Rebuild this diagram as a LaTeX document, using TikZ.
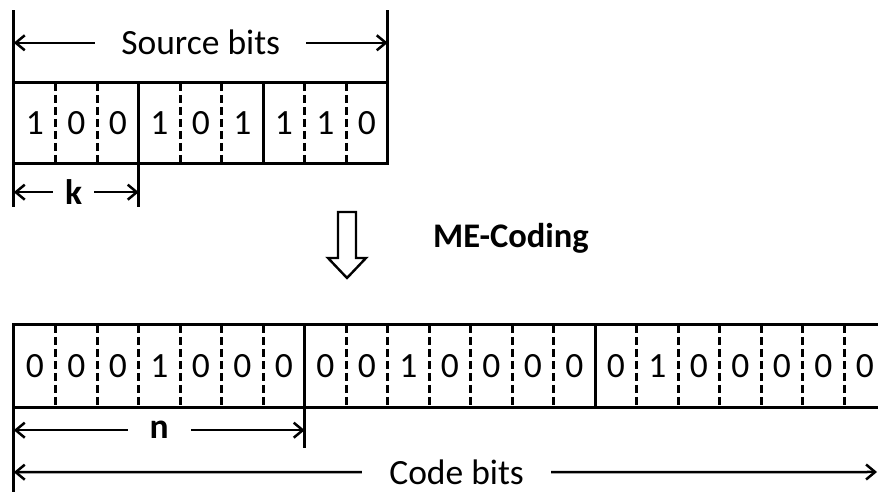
\documentclass[tikz,border=0pt]{standalone}
\usepackage{fontspec}
\setmainfont{Carlito}
\usetikzlibrary{arrows.meta}
\tikzstyle{bit}=[rectangle,minimum width=41.5pt,inner sep=0pt,font=\fontsize{35.5}{42}\selectfont]
\tikzstyle{frame}=[line width=2.9pt,line cap=rect]
\tikzstyle{sep}=[line width=2.6pt,dash pattern=on 8pt off 4pt]
\tikzstyle{dim}=[line width=2.5pt,{Straight Barb[length=9pt,width=15pt]}-{Straight Barb[length=9pt,width=15pt]}]
\tikzstyle{lbl}=[fill=white,inner ysep=2pt,font=\fontsize{35.5}{42}\selectfont]

\begin{document}
\begin{tikzpicture}[x=1pt,y=1pt]
  \useasboundingbox (0,0) rectangle (878,492);
  % source bits
  \node[bit,minimum height=80pt] (s1) at (34.75,369){1};
  \node[bit,minimum height=80pt,right of=s1,node distance=41.5pt] (s2){0};
  \node[bit,minimum height=80pt,right of=s2,node distance=41.5pt] (s3){0};
  \node[bit,minimum height=80pt,right of=s3,node distance=41.5pt] (s4){1};
  \node[bit,minimum height=80pt,right of=s4,node distance=41.5pt] (s5){0};
  \node[bit,minimum height=80pt,right of=s5,node distance=41.5pt] (s6){1};
  \node[bit,minimum height=80pt,right of=s6,node distance=41.5pt] (s7){1};
  \node[bit,minimum height=80pt,right of=s7,node distance=41.5pt] (s8){1};
  \node[bit,minimum height=80pt,right of=s8,node distance=41.5pt] (s9){0};
  \draw[frame] (s1.north west) rectangle (s9.south east);
  \draw[frame] (s3.north east) -- (s3.south east);
  \draw[frame] (s6.north east) -- (s6.south east);
  \foreach \i in {1,2,4,5,7,8}
    \draw[sep] (s\i.north east) -- (s\i.south east);
  \draw[frame] ([yshift=71pt]s1.north west) -- ([yshift=-42pt]s1.south west);
  \draw[frame] ([yshift=71pt]s9.north east) -- (s9.north east);
  \draw[frame] (s3.south east) -- ([yshift=-42pt]s3.south east);
  \draw[dim] ([yshift=40pt]s1.north west) -- node[lbl,inner xsep=26pt]{Source bits} ([yshift=40pt]s9.north east);
  \draw[dim] ([yshift=-29pt]s1.south west) -- node[lbl,inner xsep=12pt,pos=0.48]{\bfseries k} ([yshift=-29pt]s3.south east);
  % coding step
  \draw[line width=2.4pt] (338,280) -- (356,280) -- (356,234) -- (366,234) -- (347,214) -- (328,234) -- (338,234) -- cycle;
  \node[font=\fontsize{34.5}{42}\selectfont\bfseries] (coding) at (511,254){ME-Coding};
  % code bits
  \node[bit,minimum height=82pt] (c1) at (34.75,126){0};
  \node[bit,minimum height=82pt,right of=c1,node distance=41.5pt] (c2){0};
  \node[bit,minimum height=82pt,right of=c2,node distance=41.5pt] (c3){0};
  \node[bit,minimum height=82pt,right of=c3,node distance=41.5pt] (c4){1};
  \node[bit,minimum height=82pt,right of=c4,node distance=41.5pt] (c5){0};
  \node[bit,minimum height=82pt,right of=c5,node distance=41.5pt] (c6){0};
  \node[bit,minimum height=82pt,right of=c6,node distance=41.5pt] (c7){0};
  \node[bit,minimum height=82pt,right of=c7,node distance=41.5pt] (c8){0};
  \node[bit,minimum height=82pt,right of=c8,node distance=41.5pt] (c9){0};
  \node[bit,minimum height=82pt,right of=c9,node distance=41.5pt] (c10){1};
  \node[bit,minimum height=82pt,right of=c10,node distance=41.5pt] (c11){0};
  \node[bit,minimum height=82pt,right of=c11,node distance=41.5pt] (c12){0};
  \node[bit,minimum height=82pt,right of=c12,node distance=41.5pt] (c13){0};
  \node[bit,minimum height=82pt,right of=c13,node distance=41.5pt] (c14){0};
  \node[bit,minimum height=82pt,right of=c14,node distance=41.5pt] (c15){0};
  \node[bit,minimum height=82pt,right of=c15,node distance=41.5pt] (c16){1};
  \node[bit,minimum height=82pt,right of=c16,node distance=41.5pt] (c17){0};
  \node[bit,minimum height=82pt,right of=c17,node distance=41.5pt] (c18){0};
  \node[bit,minimum height=82pt,right of=c18,node distance=41.5pt] (c19){0};
  \node[bit,minimum height=82pt,right of=c19,node distance=41.5pt] (c20){0};
  \node[bit,minimum height=82pt,right of=c20,node distance=41.5pt] (c21){0};
  \draw[frame] (c1.north west) rectangle (c21.south east);
  \draw[frame] (c7.north east) -- (c7.south east);
  \draw[frame] (c14.north east) -- (c14.south east);
  \foreach \i in {1,...,6,8,9,...,13,15,16,...,20}
    \draw[sep] (c\i.north east) -- (c\i.south east);
  \draw[frame] (c1.north west) -- ([yshift=-90pt]c1.south west);
  \draw[frame] (c7.south east) -- ([yshift=-39pt]c7.south east);
  \coordinate (codeend) at (877,20);
  \draw[dim] ([yshift=-23pt]c1.south west) -- node[lbl,inner xsep=22pt,pos=0.5]{\bfseries n} ([yshift=-23pt]c7.south east);
  \draw[dim] ([yshift=-65pt]c1.south west) -- node[lbl,inner xsep=27pt,pos=0.513]{Code bits} (codeend);
\end{tikzpicture}
\end{document}
